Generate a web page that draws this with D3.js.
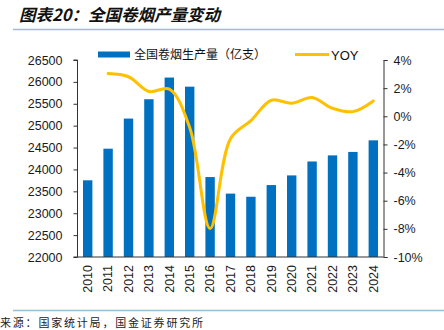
<!DOCTYPE html>
<html>
<head>
<meta charset="utf-8">
<script src="https://cdn.jsdelivr.net/npm/d3@7"></script>
<style>
  body { margin: 0; background: #fff; }
  svg { display: block; }
  .cjk { font-family: "Noto Sans CJK SC", sans-serif; }
  .lat { font-family: "Liberation Sans", Arial, sans-serif; }
</style>
</head>
<body>
<svg id="chart" width="444" height="330"></svg>
<script>
// 全国卷烟产量（亿支）与同比增速
const years = ["2010","2011","2012","2013","2014","2015","2016","2017","2018","2019","2020","2021","2022","2023","2024"];
const output = [23752, 24474, 25162, 25604, 26099, 25891, 23826, 23448, 23376, 23643, 23864, 24182, 24321, 24400, 24665];
const yoy = [null, 3.04, 2.81, 1.76, 1.93, -0.80, -7.98, -1.59, -0.31, 1.14, 0.93, 1.33, 0.57, 0.33, 1.09];
const leftTicks = [22000, 22500, 23000, 23500, 24000, 24500, 25000, 25500, 26000, 26500];
const rightTicks = [-10, -8, -6, -4, -2, 0, 2, 4];

const svg = d3.select("#chart");
const W = 444, H = 330;
const plot = { left: 77.5, right: 383.5, top: 60, bottom: 257 };

svg.append("rect").attr("width", W).attr("height", H).attr("fill", "#fff");

// 标题与分隔线
svg.append("text")
  .attr("class", "cjk")
  .attr("x", 19).attr("y", 21)
  .attr("font-size", 16.5).attr("font-weight", "bold").attr("font-style", "italic")
  .attr("fill", "#111")
  .text("图表20：全国卷烟产量变动");
svg.append("line").attr("x1", 13).attr("x2", W).attr("y1", 29.5).attr("y2", 29.5)
  .attr("stroke", "#9dbdd3").attr("stroke-width", 1.3);
svg.append("line").attr("x1", 13).attr("x2", W).attr("y1", 310.5).attr("y2", 310.5)
  .attr("stroke", "#9dbdd3").attr("stroke-width", 1.3);
svg.append("text")
  .attr("class", "cjk")
  .attr("x", 0).attr("y", 327)
  .attr("font-size", 11).attr("letter-spacing", 1.8).attr("fill", "#222")
  .text("来源：国家统计局，国金证券研究所");

// 比例尺
const x = d3.scaleBand().domain(years).range([plot.left, plot.right]).paddingInner(0.54).paddingOuter(0.27);
const yL = d3.scaleLinear().domain([22000, 26500]).range([plot.bottom, plot.top]);
const yR = d3.scaleLinear().domain([-10, 4]).range([plot.bottom, plot.top]);

// 柱：产量
svg.append("g").selectAll("rect").data(years).join("rect")
  .attr("x", d => x(d))
  .attr("width", x.bandwidth())
  .attr("y", (d, i) => yL(output[i]))
  .attr("height", (d, i) => yL(22000) - yL(output[i]))
  .attr("fill", "#0070c0");

// 折线：同比
const pts = years.map((d, i) => ({ x: x(d) + x.bandwidth() / 2, v: yoy[i] })).filter(p => p.v !== null);
const line = d3.line().x(p => p.x).y(p => yR(p.v)).curve(d3.curveCatmullRom.alpha(0.5));
svg.append("path").datum(pts)
  .attr("d", line)
  .attr("fill", "none").attr("stroke", "#ffc000").attr("stroke-width", 3)
  .attr("stroke-linejoin", "round").attr("stroke-linecap", "round");

// 坐标轴
const axisColor = "#333";
const gL = svg.append("g").attr("transform", `translate(${plot.left},0)`)
  .call(d3.axisLeft(yL).tickValues(leftTicks).tickSize(4).tickPadding(11).tickFormat(d3.format("d")));
const gR = svg.append("g").attr("transform", `translate(${plot.right},0)`)
  .call(d3.axisRight(yR).tickValues(rightTicks).tickSize(4).tickPadding(6).tickFormat(d => d + "%"));
const gB = svg.append("g").attr("transform", `translate(0,${plot.bottom})`)
  .call(d3.axisBottom(x).tickSize(0).tickPadding(0));
[gL, gR, gB].forEach(g => {
  g.select(".domain").attr("stroke", axisColor);
  g.selectAll(".tick line").attr("stroke", axisColor);
  g.selectAll("text").attr("class", "lat").attr("font-size", 12.5).attr("fill", "#1a1a1a");
});
gL.select(".domain").attr("d", `M-4,${plot.top}H0V${plot.bottom}`);
gB.select(".domain").attr("d", `M${plot.left - 4},0H${plot.right}`);
gB.selectAll(".tick text")
  .attr("transform", "rotate(-90)")
  .attr("text-anchor", "end")
  .attr("x", -8).attr("y", 0).attr("dy", "0.35em");

// 图例
const lg = svg.append("g");
lg.append("rect").attr("x", 98).attr("y", 51.5).attr("width", 32).attr("height", 6).attr("fill", "#0070c0");
lg.append("text").attr("class", "cjk").attr("x", 134).attr("y", 59)
  .attr("font-size", 12).attr("fill", "#111").text("全国卷烟生产量（亿支）");
lg.append("line").attr("x1", 295).attr("x2", 329).attr("y1", 54.5).attr("y2", 54.5)
  .attr("stroke", "#ffc000").attr("stroke-width", 3);
lg.append("text").attr("class", "lat").attr("x", 331).attr("y", 59.5)
  .attr("font-size", 13).attr("fill", "#111").text("YOY");
</script>
</body>
</html>
